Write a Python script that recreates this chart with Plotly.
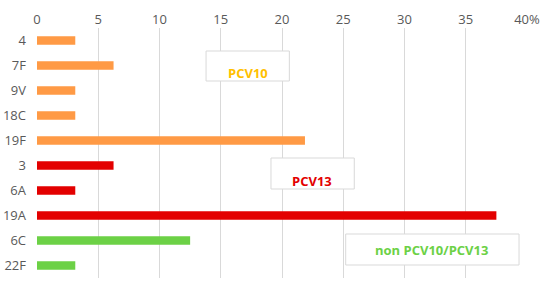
import plotly.graph_objects as go

# serotype shares (%), top to bottom
serotypes = ['4', '7F', '9V', '18C', '19F', '3', '6A', '19A', '6C', '22F']
percent = [3.125, 6.25, 3.125, 3.125, 21.875, 6.25, 3.125, 37.5, 12.5, 3.125]
groups = ['PCV10'] * 5 + ['PCV13'] * 3 + ['non'] * 2

tick_vals = [0, 5, 10, 15, 20, 25, 30, 35, 40]
tick_text = ['0', '5', '10', '15', '20', '25', '30', '35', '40%']

group_colors = {'PCV10': '#FF9A45', 'PCV13': '#E30000', 'non': '#6CD146'}
label_colors = {'PCV10': '#FFC000', 'PCV13': '#E30000', 'non': '#6CD146'}

fig = go.Figure()
fig.add_trace(go.Bar(
    y=serotypes, x=percent, orientation='h',
    marker=dict(color=[group_colors[g] for g in groups], line=dict(width=0)),
    width=0.34, showlegend=False,
))

# label boxes: (text, group, x0, x1, y0, y1, text x, text y)
boxes = [
    ('PCV10', 'PCV10', 13.8, 20.6, 0.788, 0.908, 17.2, 0.82),
    ('PCV13', 'PCV13', 19.1, 25.9, 0.356, 0.48, 22.45, 0.388),
    ('non PCV10/PCV13', 'non', 25.2, 39.35, 0.052, 0.176, 32.2, 0.112),
]
for text, g, x0, x1, y0, y1, tx, ty in boxes:
    fig.add_shape(type='rect', xref='x', yref='paper', x0=x0, x1=x1, y0=y0, y1=y1,
                  line=dict(color='#D9D9D9', width=1), fillcolor='white', layer='above')
    fig.add_annotation(x=tx, y=ty, xref='x', yref='paper', text='<b>' + text + '</b>',
                       xanchor='center', yanchor='middle',
                       showarrow=False, font=dict(color=label_colors[g], size=13))

fig.update_layout(
    width=550, height=283,
    margin=dict(l=37, r=23, t=28, b=5, autoexpand=False),
    plot_bgcolor='white', paper_bgcolor='white',
    font=dict(family='Open Sans, Liberation Sans, sans-serif', size=13, color='#595959'),
    bargap=0.6,
)
fig.update_xaxes(side='top', range=[0, 40], tickvals=tick_vals, ticktext=tick_text,
                 showgrid=True, gridcolor='#D9D9D9', gridwidth=1, zeroline=False,
                 showline=False, ticks='', fixedrange=True, automargin=False)
fig.update_yaxes(autorange='reversed', showgrid=False, showline=False, ticks='',
                 ticklabelstandoff=10, fixedrange=True, automargin=False)

# drop the page's default 8px body margin so the figure fills the window
fig.write_html("out.html", config={'displayModeBar': False},
               post_script="document.body.style.margin='0';")
